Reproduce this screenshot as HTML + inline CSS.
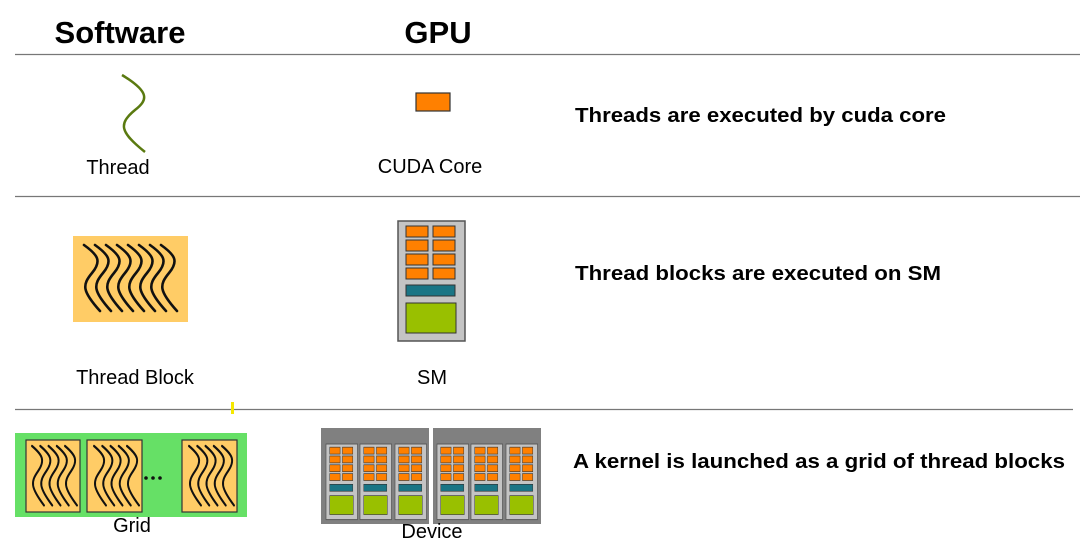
<!DOCTYPE html>
<html><head><meta charset="utf-8"><style>html,body{margin:0;padding:0;background:#fff}svg{display:block}</style></head>
<body>
<svg width="1080" height="549" viewBox="0 0 1080 549" xmlns="http://www.w3.org/2000/svg" font-family="Liberation Sans, Arial, sans-serif">
<defs>
  <g id="sm">
    <rect x="0" y="0" width="67" height="120" fill="#c4c4c4" stroke="#555" stroke-width="1.5"/>
    <g fill="#ff8000" stroke="#333" stroke-width="1">
      <rect x="8" y="5" width="22" height="11"/><rect x="35" y="5" width="22" height="11"/>
      <rect x="8" y="19" width="22" height="11"/><rect x="35" y="19" width="22" height="11"/>
      <rect x="8" y="33" width="22" height="11"/><rect x="35" y="33" width="22" height="11"/>
      <rect x="8" y="47" width="22" height="11"/><rect x="35" y="47" width="22" height="11"/>
    </g>
    <rect x="8" y="64" width="49" height="11" fill="#1a7585" stroke="#333" stroke-width="1"/>
    <rect x="8" y="82" width="50" height="30" fill="#99c000" stroke="#333" stroke-width="1"/>
  </g>
  <g id="waves" fill="none" stroke="#111" stroke-width="2.6" stroke-linecap="round">
    <path d="M0 0 C14 10,18 16,8 28 C-2 40,-2 46,16 66"/>
  </g>
</defs>

<!-- headers -->
<text x="120" y="43" font-size="31" font-weight="bold" text-anchor="middle">Software</text>
<text x="438" y="43" font-size="31" font-weight="bold" text-anchor="middle">GPU</text>

<!-- separators -->
<line x1="15" y1="54.5" x2="1080" y2="54.5" stroke="#777" stroke-width="1.3"/>
<line x1="15" y1="196.5" x2="1080" y2="196.5" stroke="#777" stroke-width="1.3"/>
<line x1="15" y1="409.5" x2="1073" y2="409.5" stroke="#777" stroke-width="1.3"/>
<rect x="231" y="402" width="3" height="12" fill="#f5e800"/>

<!-- row 1 -->
<path d="M122 75 C150 92,148 100,135 110 C118 124,120 132,145 152" fill="none" stroke="#5a7a10" stroke-width="2.5"/>
<text x="118" y="174" font-size="20" text-anchor="middle">Thread</text>
<rect x="416" y="93" width="34" height="18" fill="#ff8000" stroke="#333" stroke-width="1.2"/>
<text x="430" y="173" font-size="20" text-anchor="middle">CUDA Core</text>
<text x="575" y="122" font-size="20" font-weight="bold" textLength="371" lengthAdjust="spacingAndGlyphs">Threads are executed by cuda core</text>

<!-- row 2 -->
<rect x="73" y="236" width="115" height="86" fill="#ffcc66"/>
<g transform="translate(84,245) scale(1,1.0)">
  <use href="#waves" x="0"/><use href="#waves" x="11"/><use href="#waves" x="22"/><use href="#waves" x="33"/>
  <use href="#waves" x="44"/><use href="#waves" x="55"/><use href="#waves" x="66"/><use href="#waves" x="77"/>
</g>
<text x="135" y="384" font-size="20" text-anchor="middle">Thread Block</text>
<use href="#sm" transform="translate(398,221)"/>
<text x="432" y="384" font-size="20" text-anchor="middle">SM</text>
<text x="575" y="280" font-size="20" font-weight="bold" textLength="366" lengthAdjust="spacingAndGlyphs">Thread blocks are executed on SM</text>

<!-- row 3 -->
<rect x="15" y="433" width="232" height="84" fill="#66e066"/>
<g>
  <rect x="26" y="440" width="54" height="72" fill="#ffcc66" stroke="#333" stroke-width="1.2"/>
  <rect x="87" y="440" width="55" height="72" fill="#ffcc66" stroke="#333" stroke-width="1.2"/>
  <rect x="182" y="440" width="55" height="72" fill="#ffcc66" stroke="#333" stroke-width="1.2"/>
  <g transform="translate(32,446) scale(0.75,0.9)">
    <use href="#waves" x="0"/><use href="#waves" x="11"/><use href="#waves" x="22"/><use href="#waves" x="33"/><use href="#waves" x="44"/>
  </g>
  <g transform="translate(94,446) scale(0.75,0.9)">
    <use href="#waves" x="0"/><use href="#waves" x="11"/><use href="#waves" x="22"/><use href="#waves" x="33"/><use href="#waves" x="44"/>
  </g>
  <g transform="translate(189,446) scale(0.75,0.9)">
    <use href="#waves" x="0"/><use href="#waves" x="11"/><use href="#waves" x="22"/><use href="#waves" x="33"/><use href="#waves" x="44"/>
  </g>
  <circle cx="146" cy="478" r="1.8" fill="#111"/><circle cx="153" cy="478" r="1.8" fill="#111"/><circle cx="160" cy="478" r="1.8" fill="#111"/>
</g>
<text x="132" y="532" font-size="20" text-anchor="middle">Grid</text>

<rect x="321" y="428" width="108" height="96" fill="#808080"/>
<rect x="433" y="428" width="108" height="96" fill="#808080"/>
<use href="#sm" transform="translate(326,444) scale(0.47,0.63)"/>
<use href="#sm" transform="translate(360,444) scale(0.47,0.63)"/>
<use href="#sm" transform="translate(395,444) scale(0.47,0.63)"/>
<use href="#sm" transform="translate(437,444) scale(0.47,0.63)"/>
<use href="#sm" transform="translate(471,444) scale(0.47,0.63)"/>
<use href="#sm" transform="translate(506,444) scale(0.47,0.63)"/>
<text x="432" y="538" font-size="20" text-anchor="middle">Device</text>
<text x="573" y="468" font-size="20" font-weight="bold" textLength="492" lengthAdjust="spacingAndGlyphs">A kernel is launched as a grid of thread blocks</text>
</svg>
</body></html>
